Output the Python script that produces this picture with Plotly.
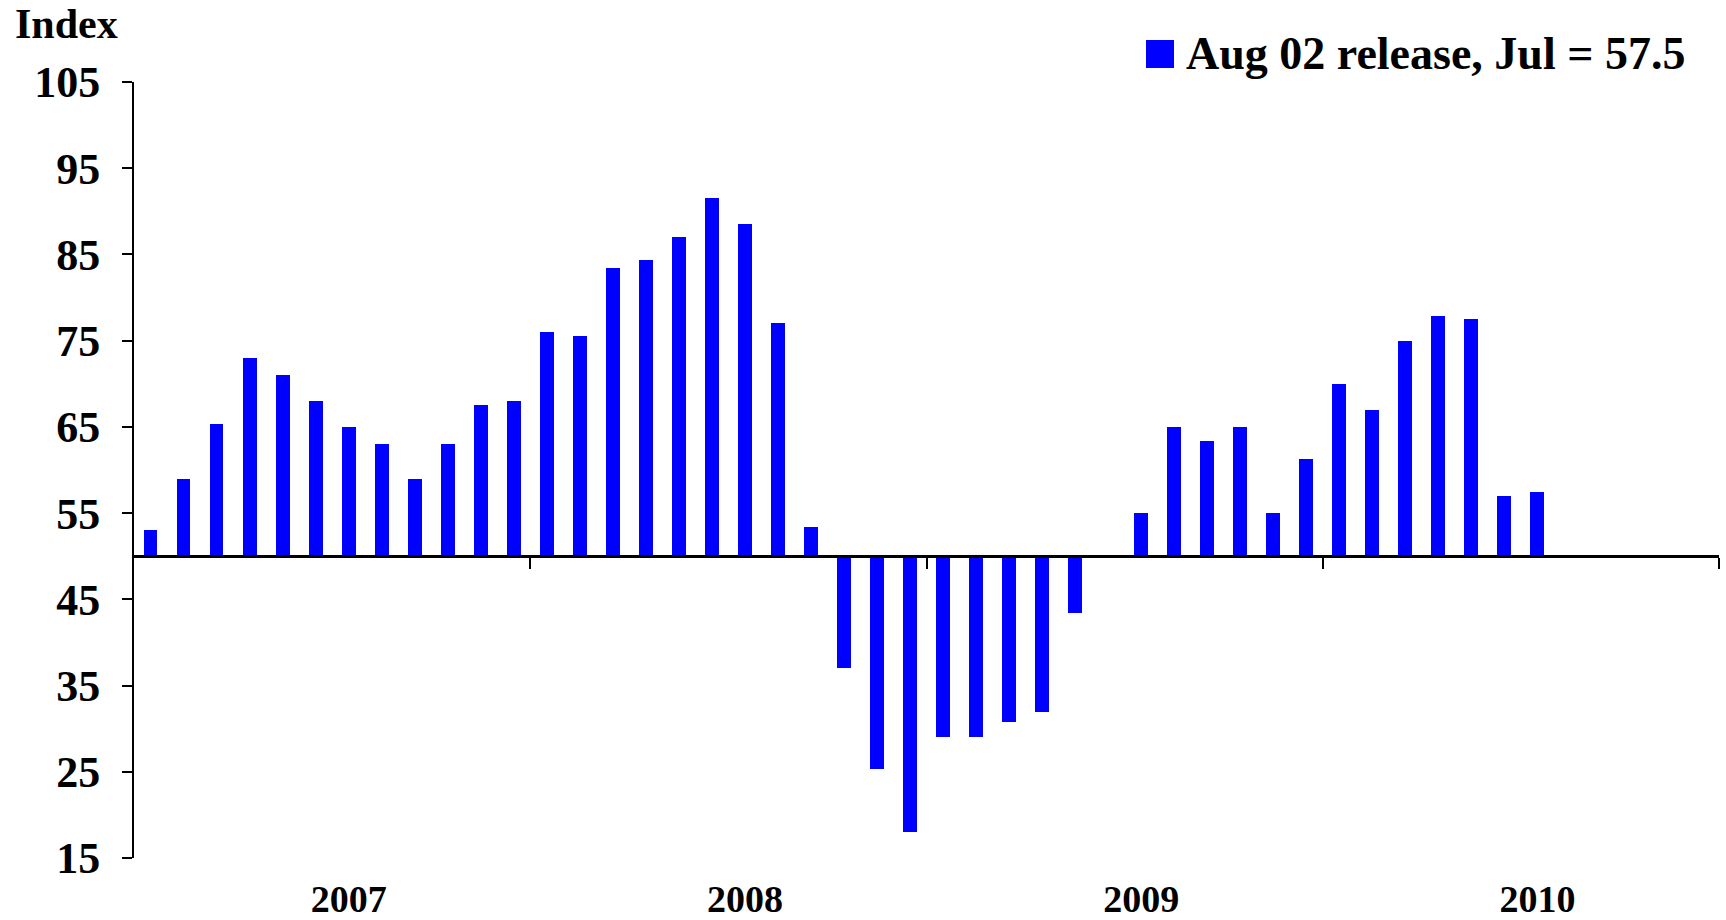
import plotly.graph_objects as go

# Monthly diffusion index, Jan 2007 - Jul 2010 (June 2009 sits on the 50 line)
years = ["2007", "2008", "2009", "2010"]
values_2007 = [53, 59, 65.3, 73, 71, 68, 65, 63, 59, 63, 67.5, 68]
values_2008 = [76, 75.5, 83.4, 84.4, 87, 91.5, 88.5, 77, 53.4, 37, 25.3, 18]
values_2009 = [29, 29, 30.8, 31.9, 43.4, 50, 55, 65, 63.4, 65, 55, 61.3]
values_2010 = [70, 67, 75, 77.9, 77.5, 57, 57.5]
month_names = ["Jan", "Feb", "Mar", "Apr", "May", "Jun",
               "Jul", "Aug", "Sep", "Oct", "Nov", "Dec"]
y_ticks = [15, 25, 35, 45, 55, 65, 75, 85, 95, 105]
baseline = 50
legend_label = "Aug 02 release, Jul = 57.5"

values = values_2007 + values_2008 + values_2009 + values_2010
labels = [f"{month_names[i % 12]} {years[i // 12]}" for i in range(len(values))]
positions = list(range(len(values)))
n_slots = 12 * len(years)

FONT = "Liberation Serif"
BLUE = "#0000FF"

W, H = 1726, 920
ML, MR, MT, MB = 134, 7, 82, 62
plot_w = W - ML - MR
plot_h = H - MT - MB

fig = go.Figure()
fig.add_trace(go.Bar(
    x=positions,
    y=[v - baseline for v in values],
    base=baseline,
    width=0.42,
    marker=dict(color=BLUE, line=dict(width=0)),
    customdata=[[lab, v] for lab, v in zip(labels, values)],
    hovertemplate="%{customdata[0]}: %{customdata[1]}<extra></extra>",
    showlegend=False,
))

# invisible trace on the second x axis so the year labels render
fig.add_trace(go.Scatter(x=[-0.5, n_slots - 0.5], y=[None, None], xaxis="x2",
                         showlegend=False, hoverinfo="skip"))

y_lo, y_hi = 15, 105
fig.update_layout(
    width=W, height=H,
    margin=dict(l=ML, r=MR, t=MT, b=MB, autoexpand=False),
    paper_bgcolor="white", plot_bgcolor="white",
    bargap=0,
    font=dict(family=FONT, size=40, color="black", weight="bold"),
    xaxis=dict(
        range=[-0.5, n_slots - 0.5],
        anchor="free",
        position=(baseline - y_lo) / (y_hi - y_lo),
        showline=True, linecolor="black", linewidth=2.5,
        ticks="outside", ticklen=11, tickwidth=2, tickcolor="black",
        tickvals=[12 * k - 0.5 for k in range(1, len(years) + 1)],
        showticklabels=False, showgrid=False, zeroline=False,
        automargin=False, fixedrange=True,
    ),
    xaxis2=dict(
        range=[-0.5, n_slots - 0.5],
        overlaying="x", anchor="y", side="bottom",
        showline=False, ticks="",
        tickvals=[12 * k + 6 for k in range(len(years))],
        ticktext=years,
        tickfont=dict(family=FONT, size=38, color="black", weight="bold"),
        ticklabelstandoff=15,
        showgrid=False, zeroline=False, automargin=False,
    ),
    yaxis=dict(
        range=[y_lo, y_hi],
        tickvals=y_ticks,
        ticktext=[str(t) for t in y_ticks],
        tickfont=dict(family=FONT, size=44, color="black", weight="bold"),
        showline=True, linecolor="black", linewidth=2,
        ticks="outside", ticklen=10, tickwidth=2, tickcolor="black",
        ticklabelstandoff=13,
        showgrid=False, zeroline=False, automargin=False,
    ),
)

# axis title in the top-left corner
fig.add_annotation(
    text="Index", xref="paper", yref="paper",
    x=(13 - ML) / plot_w, y=1 + (MT - 24) / plot_h,
    xanchor="left", yanchor="middle", showarrow=False,
    font=dict(family=FONT, size=42, color="black", weight="bold"),
)

# legend: blue swatch plus label
fig.add_shape(type="rect", xref="paper", yref="paper",
              x0=(1146 - ML) / plot_w, x1=(1174 - ML) / plot_w,
              y0=1 + (MT - 68) / plot_h, y1=1 + (MT - 40) / plot_h,
              fillcolor=BLUE, line=dict(width=0))
fig.add_annotation(
    text=legend_label, xref="paper", yref="paper",
    x=(1184 - ML) / plot_w, y=1 + (MT - 54) / plot_h,
    xanchor="left", yanchor="middle", showarrow=False,
    font=dict(family=FONT, size=46, color="black", weight="bold"),
)

fig.write_html("out.html")
